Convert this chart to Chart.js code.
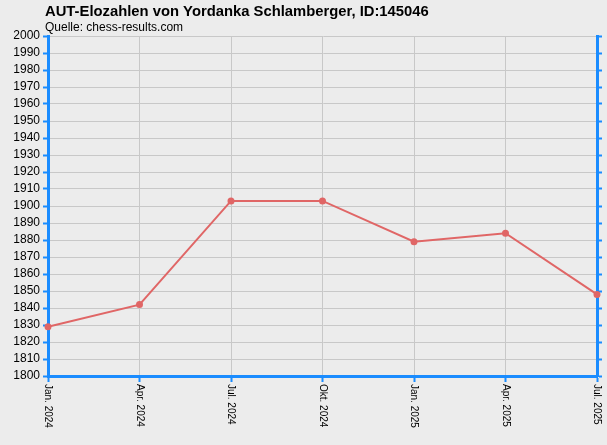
<!DOCTYPE html>
<html><head><meta charset="utf-8">
<script src="https://cdn.jsdelivr.net/npm/chart.js@4"></script>
<style>html,body{margin:0;padding:0;background:#ececec}#w{width:607px;height:445px}</style>
</head><body><div id="w"><canvas id="c"></canvas></div>
<script>
const titleText = "AUT-Elozahlen von Yordanka Schlamberger, ID:145046";
const subtitleText = "Quelle: chess-results.com";
const categories = ["Jan. 2024","Apr. 2024","Jul. 2024","Okt. 2024","Jan. 2025","Apr. 2025","Jul. 2025"];
const elo = [1829, 1842, 1903, 1903, 1879, 1884, 1848];
const yMin = 1800, yMax = 2000, yStep = 10;
const BLUE = "#1a8cff";

const deco = {
  id: "deco",
  beforeDraw(chart) {
    const ctx = chart.ctx;
    ctx.save();
    ctx.fillStyle = "#ececec";
    ctx.fillRect(0, 0, chart.width, chart.height);
    ctx.restore();
  },
  afterDraw(chart) {
    const ctx = chart.ctx;
    ctx.save();
    ctx.fillStyle = "#000";
    ctx.textBaseline = "alphabetic";
    ctx.textAlign = "left";
    ctx.font = "bold 14.8px 'Liberation Sans', Arial, sans-serif";
    ctx.fillText(titleText, 45, 16);
    ctx.font = "12px 'Liberation Sans', Arial, sans-serif";
    ctx.fillText(subtitleText, 45, 31);
    const xs = chart.scales.x;
    ctx.font = "10px 'Liberation Sans', Arial, sans-serif";
    ctx.textBaseline = "middle";
    categories.forEach((lab, i) => {
      const px = xs.getPixelForTick(i);
      ctx.save();
      ctx.translate(px, 384);
      ctx.rotate(Math.PI / 2);
      ctx.fillText(lab, 0, 0);
      ctx.restore();
    });
    ctx.restore();
  }
};

new Chart(document.getElementById("c"), {
  type: "line",
  data: { labels: categories, datasets: [{
    data: elo, borderColor: "#e06666", backgroundColor: "#e06666",
    borderWidth: 2, pointRadius: 2.5, pointStyle: "circle", tension: 0
  }]},
  options: {
    responsive: true, maintainAspectRatio: false, animation: false,
    layout: { padding: { top: 36, right: 2, left: 0, bottom: 0 } },
    plugins: { legend: { display: false }, tooltip: { enabled: false }, title: { display: false } },
    scales: {
      x: {
        offset: false,
        afterFit(s) { s.height = 69; },
        ticks: { display: false },
        grid: { color: "#c8c8c8", tickColor: BLUE, tickLength: 6, tickWidth: 2 },
        border: { color: BLUE, width: 3 }
      },
      y: {
        min: yMin, max: yMax,
        afterFit(s) { s.width = 48; },
        ticks: { stepSize: yStep, color: "#000", padding: 3, autoSkip: false,
                 callback: v => String(v),
                 font: { family: "'Liberation Sans', Arial, sans-serif", size: 12 } },
        grid: { color: "#c8c8c8", tickColor: BLUE, tickLength: 5, tickWidth: 2 },
        border: { color: BLUE, width: 3 }
      },
      y2: {
        position: "right", min: yMin, max: yMax,
        afterFit(s) { s.width = 8; },
        ticks: { stepSize: yStep, display: false },
        grid: { drawOnChartArea: false, tickColor: BLUE, tickLength: 5, tickWidth: 2 },
        border: { color: BLUE, width: 3 }
      }
    }
  },
  plugins: [deco]
});
</script></body></html>
